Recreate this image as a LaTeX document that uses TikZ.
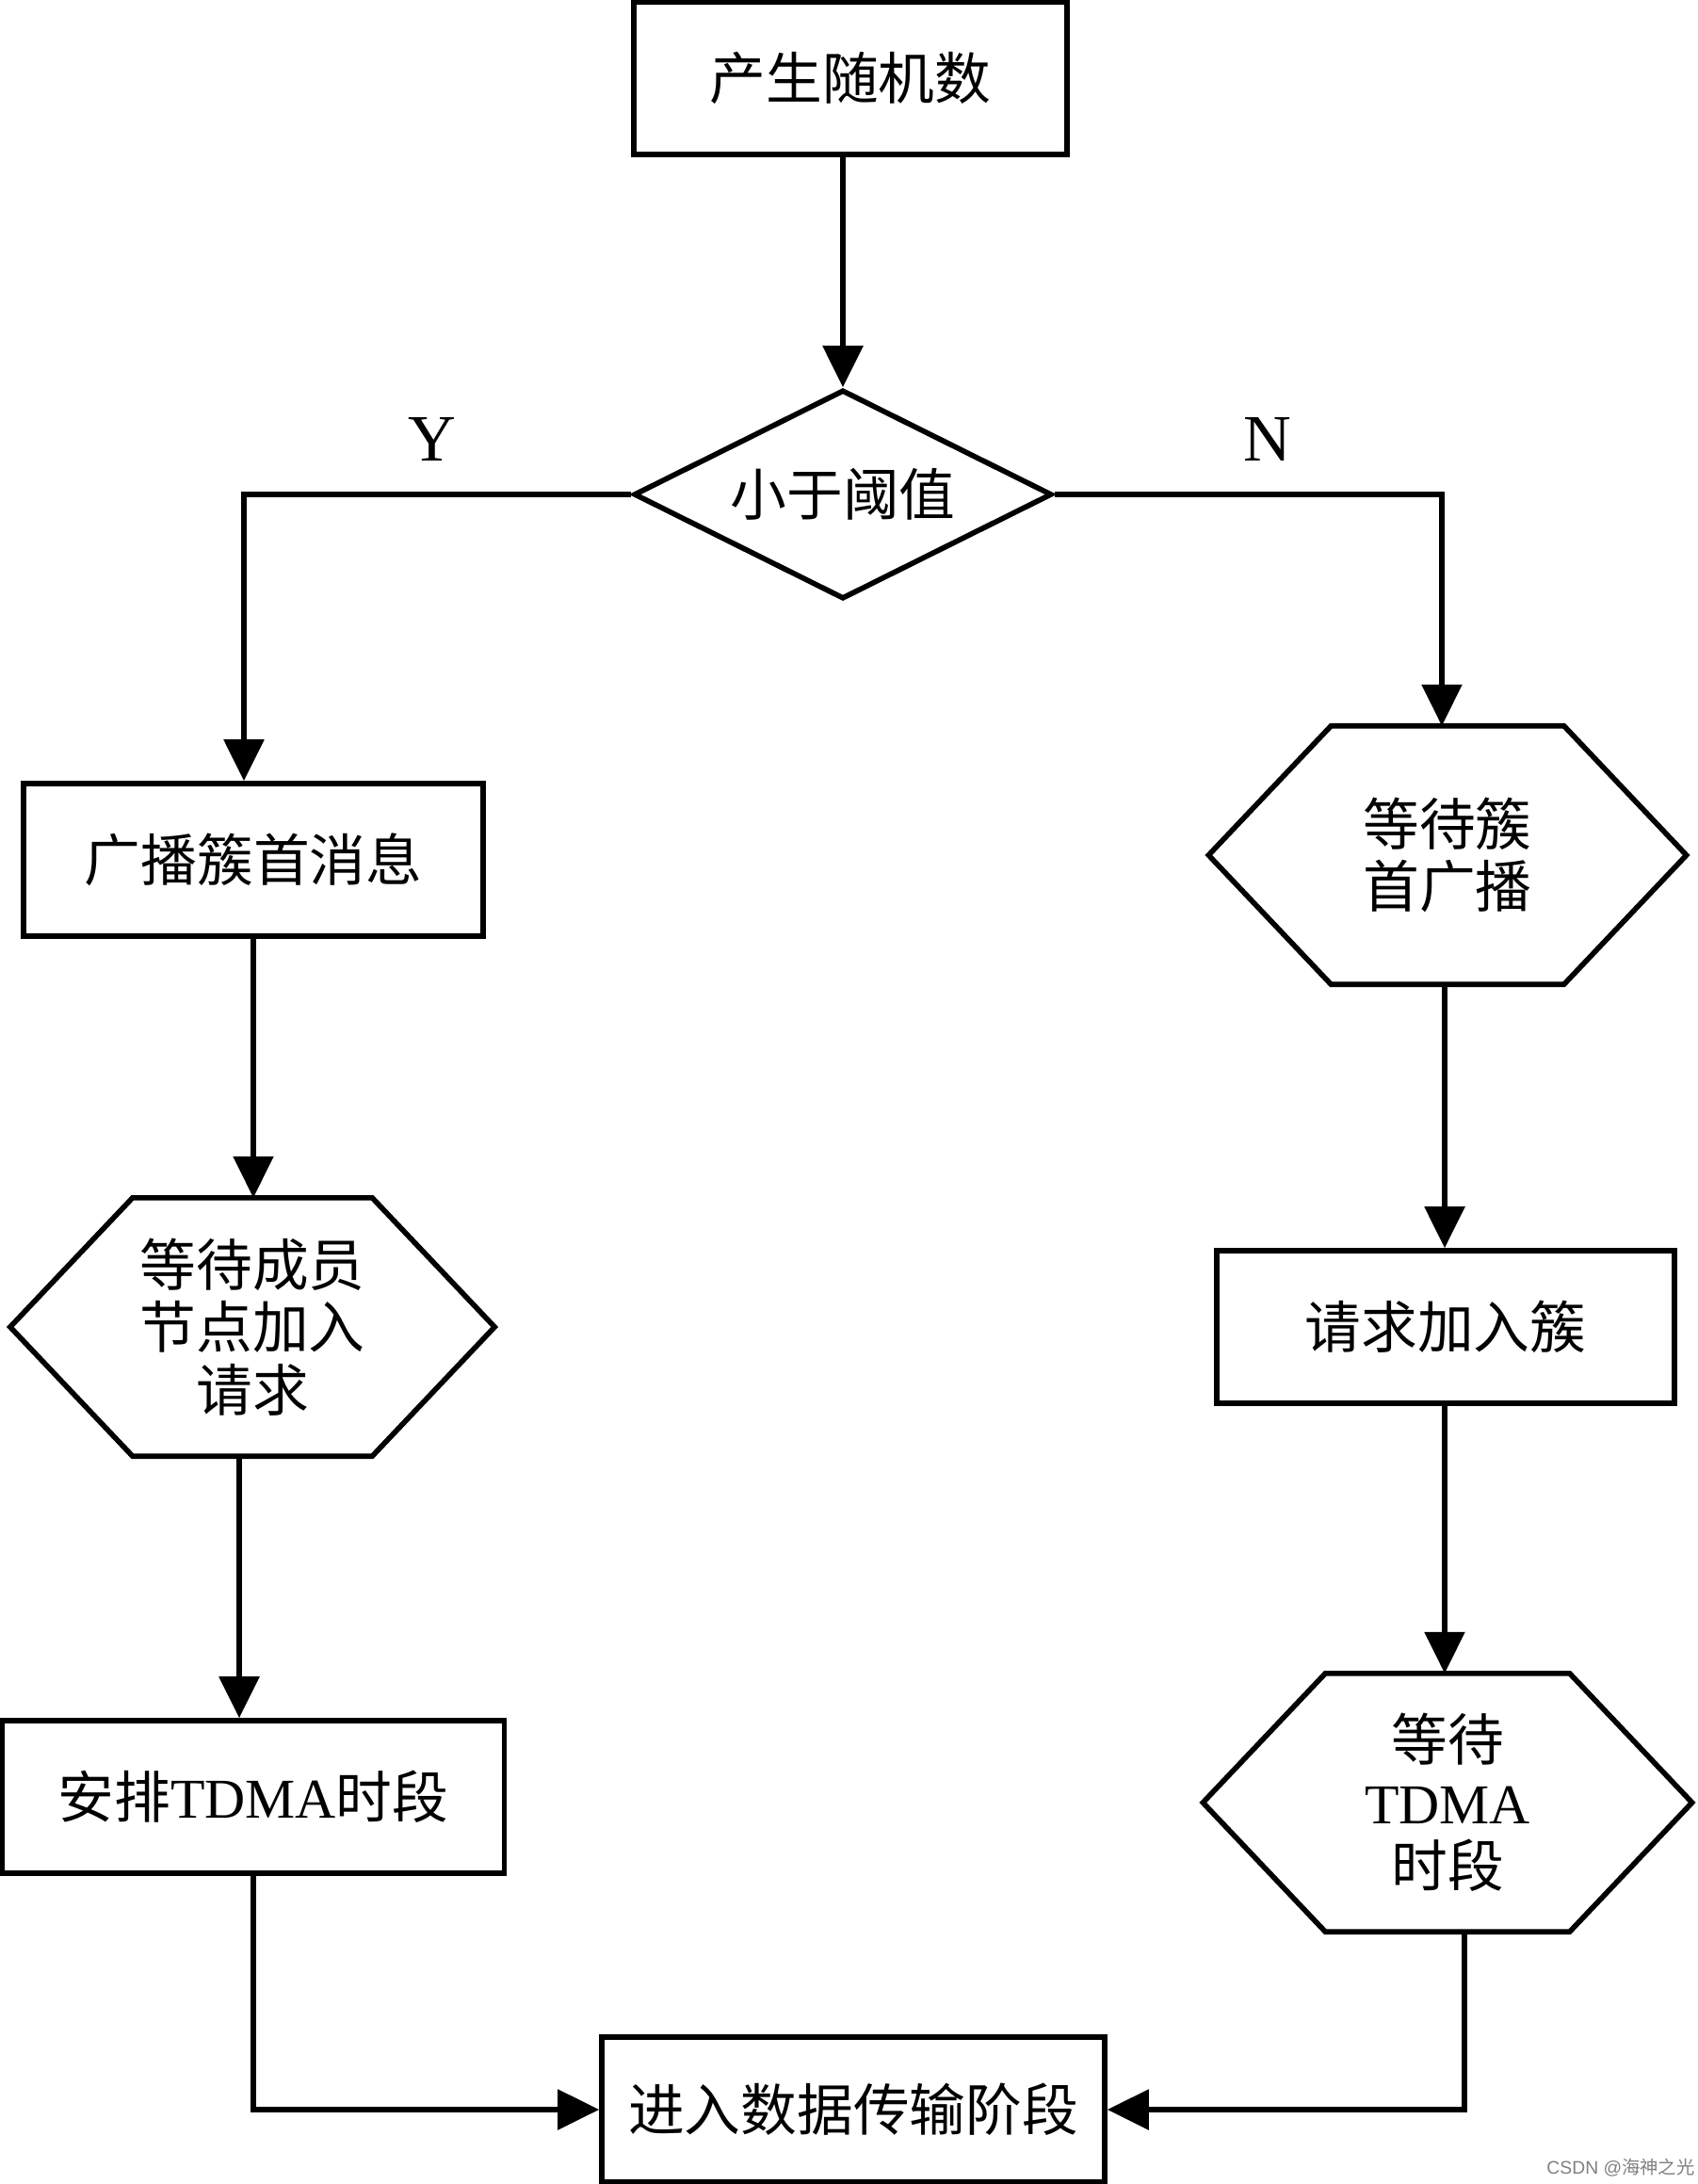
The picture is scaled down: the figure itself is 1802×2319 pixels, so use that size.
\documentclass[tikz,border=0pt]{standalone}
\usepackage{fontspec}
\setmainfont{Liberation Serif}
\setsansfont{Liberation Sans}
\newfontfamily\cjk{Noto Sans CJK SC}
\usepackage{tikz}
\usetikzlibrary{shapes.geometric,arrows.meta}
\tikzstyle{line} = [draw, line width=1.6pt, -{Triangle[length=4.4mm,width=4.2mm]}]
\tikzstyle{plain} = [draw, line width=1.6pt]
\tikzstyle{proc} = [draw, line width=1.6pt, rectangle, inner sep=0pt, minimum height=16.2mm, align=center]
\tikzstyle{decide} = [draw, line width=1.6pt, diamond, aspect=2, inner sep=0pt, minimum width=44.4mm, minimum height=22.2mm]
\tikzstyle{wait} = [rectangle, inner sep=0pt, minimum height=27.3mm, align=center]
\tikzstyle{yn} = [font=\fontsize{20}{22}\selectfont]
\tikzstyle{wmark} = [font=\sffamily\fontsize{5.5}{6}\selectfont, text=gray]
\newcommand{\hexframe}[1]{\path[plain] (#1.west) -- ([xshift=13mm]#1.north west) -- ([xshift=-13mm]#1.north east) -- (#1.east) -- ([xshift=-13mm]#1.south east) -- ([xshift=13mm]#1.south west) -- cycle;}

\begin{document}
\begin{tikzpicture}[x=0.1mm, y=-0.1mm, every node/.style={font=\fontsize{17}{19}\selectfont}]
    \useasboundingbox (0,0) rectangle (1802,2319);
    \node [proc, minimum width=46mm] (rand) at (903,83) {\cjk 产生随机数};
    \node [decide] (thr) at (895,525) {\cjk 小于阈值};
    \node [yn] (ylab) at (459,466) {Y};
    \node [yn] (nlab) at (1346,466) {N};
    \node [proc, minimum width=48.8mm] (bcast) at (269,913) {\cjk 广播簇首消息};
    \node [wait, minimum width=51.3mm] (waitm) at (268,1409) {\cjk 等待成员\\\cjk 节点加入\\\cjk 请求};
    \node [proc, minimum width=53.3mm] (sched) at (269,1908) {{\cjk 安排}TDMA{\cjk 时段}};
    \node [proc, minimum width=53.4mm, minimum height=15.4mm] (data) at (906,2240) {\cjk 进入数据传输阶段};
    \node [wait, minimum width=50.6mm] (waith) at (1537,908) {\cjk 等待簇\\\cjk 首广播};
    \node [proc, minimum width=48.6mm] (req) at (1535,1409) {\cjk 请求加入簇};
    \node [wait, minimum width=51.8mm] (waitt) at (1537,1914) {{\cjk 等待}\\TDMA\\{\cjk 时段}};
    \node [wmark] (csdn) at (1721,2302) {CSDN @{\cjk 海神之光}};
    \hexframe{waitm}
    \hexframe{waith}
    \hexframe{waitt}
    \path [line] (rand.south -| thr.north) -- (thr.north);
    \path [line] (thr.west) -| ([xshift=-1mm]bcast.north);
    \path [line] (thr.east) -| ([xshift=-0.6mm]waith.north);
    \path [line] (bcast.south) -- (bcast.south |- waitm.north);
    \path [line] ([xshift=-1.4mm]waitm.south) -- ([xshift=-1.4mm]waitm.south |- sched.north);
    \path [line] (sched.south) |- (data.west);
    \path [line] ([xshift=-0.3mm]waith.south) -- ([xshift=-0.3mm]waith.south |- req.north);
    \path [line] ([xshift=-0.1mm]req.south) -- ([xshift=-0.1mm]req.south |- waitt.north);
    \path [line] ([xshift=1.8mm]waitt.south) |- (data.east);
\end{tikzpicture}
\end{document}
